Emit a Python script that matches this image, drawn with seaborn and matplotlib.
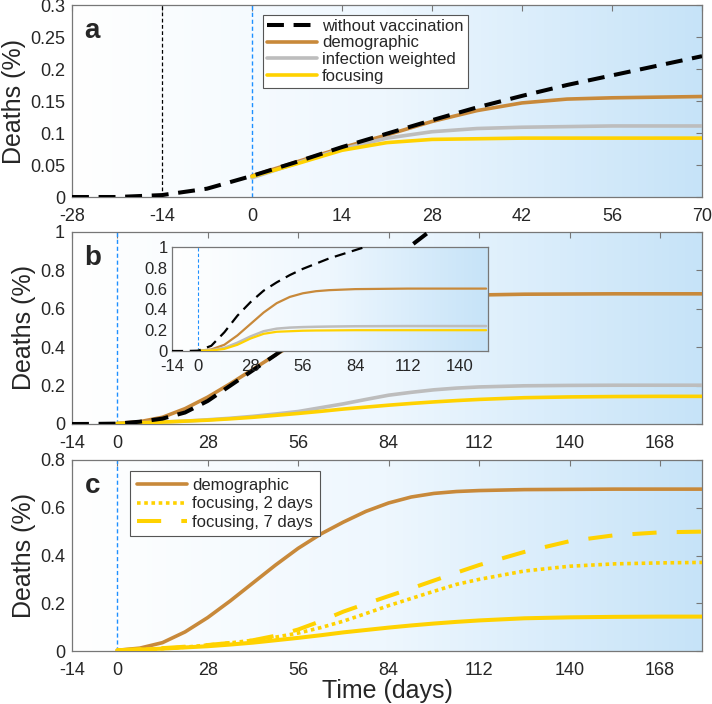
import numpy as np
import pandas as pd
import matplotlib
matplotlib.use("Agg")
import matplotlib.pyplot as plt
import seaborn as sns
from matplotlib.colors import LinearSegmentedColormap

sns.set_theme(style="white")
plt.rcParams['font.family'] = ['Liberation Sans', 'DejaVu Sans']

# ---------------- data ----------------
# panel a
a_days_nv = [-28, -21, -14, -7, 0, 7, 14, 21, 28, 35, 42, 49, 56, 63, 70]
a_without = [0.0, 0.0, 0.003, 0.013, 0.033, 0.055, 0.078, 0.099, 0.12, 0.14, 0.158, 0.175, 0.19, 0.205, 0.22]
a_days = [0, 7, 14, 21, 28, 35, 42, 49, 56, 63, 70]
a_demographic = [0.033, 0.055, 0.077, 0.097, 0.118, 0.135, 0.147, 0.153, 0.155, 0.156, 0.157]
a_infection = [0.030, 0.053, 0.075, 0.092, 0.102, 0.107, 0.109, 0.110, 0.111, 0.111, 0.111]
a_focusing = [0.032, 0.052, 0.073, 0.085, 0.090, 0.091, 0.092, 0.092, 0.092, 0.092, 0.092]

# panel b (main)
b_days_nv = [-14, -7, 0, 7, 14, 21, 28, 35, 42, 49, 56, 63, 70, 77, 84, 91, 98]
b_without = [0.0, 0.0005, 0.002, 0.012, 0.028, 0.06, 0.12, 0.2, 0.28, 0.36, 0.45, 0.56, 0.66, 0.76, 0.84, 0.93, 1.02]
bc_days = [0, 7, 14, 21, 28, 35, 42, 49, 56, 63, 70, 77, 84, 91, 98, 105, 112, 126, 140, 154, 168, 181]
bc_demographic = [0.003, 0.012, 0.035, 0.08, 0.14, 0.21, 0.285, 0.36, 0.43, 0.49, 0.54, 0.585, 0.62, 0.645, 0.66, 0.668, 0.672, 0.676, 0.677, 0.678, 0.678, 0.678]
bc_infection = [0.002, 0.006, 0.01, 0.015, 0.022, 0.03, 0.04, 0.052, 0.065, 0.085, 0.105, 0.128, 0.15, 0.165, 0.178, 0.187, 0.193, 0.199, 0.201, 0.202, 0.202, 0.202]
bc_focusing = [0.003, 0.006, 0.01, 0.015, 0.02, 0.027, 0.035, 0.045, 0.055, 0.066, 0.078, 0.088, 0.098, 0.107, 0.115, 0.122, 0.128, 0.137, 0.141, 0.143, 0.144, 0.144]

# panel b inset
i_days_nv = [-14, -7, 0, 7, 14, 21, 28, 35, 42, 49, 56, 63, 70, 77, 84, 91]
i_without = [0.0, 0.0, 0.003, 0.05, 0.18, 0.34, 0.47, 0.58, 0.66, 0.73, 0.79, 0.84, 0.89, 0.93, 0.97, 1.01]
i_days = [0, 7, 14, 21, 28, 35, 42, 49, 56, 63, 70, 84, 112, 154]
i_demographic = [0.003, 0.015, 0.06, 0.15, 0.26, 0.37, 0.46, 0.52, 0.555, 0.575, 0.585, 0.595, 0.6, 0.6]
i_infection = [0.002, 0.008, 0.03, 0.08, 0.14, 0.19, 0.215, 0.225, 0.23, 0.233, 0.235, 0.238, 0.24, 0.24]
i_focusing = [0.002, 0.005, 0.02, 0.06, 0.12, 0.165, 0.185, 0.19, 0.195, 0.197, 0.198, 0.2, 0.2, 0.2]

# panel c
c_focus2 = [0.003, 0.006, 0.01, 0.016, 0.025, 0.034, 0.045, 0.058, 0.075, 0.098, 0.125, 0.157, 0.19, 0.22, 0.25, 0.279, 0.3, 0.335, 0.355, 0.365, 0.369, 0.371]
c_focus7 = [0.003, 0.007, 0.012, 0.018, 0.025, 0.034, 0.045, 0.064, 0.09, 0.125, 0.165, 0.198, 0.23, 0.262, 0.295, 0.328, 0.36, 0.415, 0.46, 0.485, 0.497, 0.5]

labels_a = ["without vaccination", "demographic", "infection weighted", "focusing"]
labels_c = ["demographic", "focusing, 2 days", "focusing, 7 days"]

# ---------------- styles ----------------
C_DEMO = "#C8893A"
C_INF = "#BDBDBD"
C_FOC = "#FFD200"
C_BLUE = "#1E90FF"
grad = LinearSegmentedColormap.from_list("g", ["#ffffff", "#eef7fe", "#c6e3f8"])

W, H = 712, 704
fig = plt.figure(figsize=(W / 100, H / 100), dpi=100)

def px_axes(l, t, r, b):
    return fig.add_axes([l / W, 1 - b / H, (r - l) / W, (b - t) / H])

def style(ax, xlim, ylim, xticks, yticks, fs=13, xpad=8, ypad=5):
    ax.set_xlim(*xlim)
    ax.set_ylim(*ylim)
    img = np.linspace(0, 1, 256).reshape(1, -1)
    ax.imshow(img, cmap=grad, aspect='auto', extent=[xlim[0], xlim[1], ylim[0], ylim[1]],
              zorder=0, interpolation='bilinear')
    ax.set_xticks(xticks)
    ax.set_yticks(yticks)
    ax.set_yticklabels(['%g' % v for v in yticks])
    ax.set_xticklabels([str(v) for v in xticks])
    ax.tick_params(direction='in', length=4, width=0.8, color='#777777', labelsize=fs,
                   top=True, right=True)
    ax.tick_params(axis='x', pad=xpad)
    ax.tick_params(axis='y', pad=ypad)
    for s in ax.spines.values():
        s.set_color('#777777')
        s.set_linewidth(0.9)
        s.set_visible(True)

LW = 2.6
DASH_BLACK = (0, (4.2, 2.4))

# ---------------- panel a ----------------
axa = px_axes(72, 5, 702, 197)
style(axa, (-28, 70), (0, 0.3), [-28, -14, 0, 14, 28, 42, 56, 70],
      [0, 0.05, 0.1, 0.15, 0.2, 0.25, 0.3])
axa.axvline(-14, color='black', lw=0.9, ls=(0, (3, 2)), zorder=1)
axa.axvline(0, color=C_BLUE, lw=1.0, ls=(0, (3, 2)), zorder=1)
dfa = pd.DataFrame({"day": a_days, "demographic": a_demographic,
                    "infection weighted": a_infection, "focusing": a_focusing})
sns.lineplot(data=dfa, x="day", y="demographic", ax=axa, color=C_DEMO, lw=LW, label="demographic", zorder=3)
sns.lineplot(data=dfa, x="day", y="infection weighted", ax=axa, color=C_INF, lw=LW, label="infection weighted", zorder=3)
sns.lineplot(data=dfa, x="day", y="focusing", ax=axa, color=C_FOC, lw=LW, label="focusing", zorder=3)
dfa_nv = pd.DataFrame({"day": a_days_nv, "without": a_without})
sns.lineplot(data=dfa_nv, x="day", y="without", ax=axa, color='black', lw=LW + 0.3,
             ls=DASH_BLACK, label="without vaccination", zorder=4)
h, l = axa.get_legend_handles_labels()
order = [l.index(x) for x in labels_a]
leg = axa.legend([h[i] for i in order], [l[i] for i in order], loc='upper left',
                 bbox_to_anchor=(0.303, 0.95), fontsize=12, frameon=True, fancybox=False,
                 edgecolor='#555555', framealpha=1, borderpad=0.25, labelspacing=0.1,
                 handlelength=3.0, handletextpad=0.3, borderaxespad=0)
leg.get_frame().set_linewidth(0.8)
axa.text(0.02, 0.93, "a", transform=axa.transAxes, fontsize=20, fontweight='bold', va='top', ha='left')
axa.set_ylabel("Deaths (%)", fontsize=18, labelpad=3)
axa.set_xlabel("")

# ---------------- panel b ----------------
axb = px_axes(72, 232, 702, 424)
style(axb, (-14, 181), (0, 1), [-14, 0, 28, 56, 84, 112, 140, 168],
      [0, 0.2, 0.4, 0.6, 0.8, 1])
axb.axvline(0, color=C_BLUE, lw=1.0, ls=(0, (3, 2)), zorder=1)
dfb = pd.DataFrame({"day": bc_days, "demographic": bc_demographic,
                    "infection": bc_infection, "focusing": bc_focusing})
sns.lineplot(data=dfb, x="day", y="demographic", ax=axb, color=C_DEMO, lw=LW, zorder=3)
sns.lineplot(data=dfb, x="day", y="infection", ax=axb, color=C_INF, lw=LW, zorder=3)
sns.lineplot(data=dfb, x="day", y="focusing", ax=axb, color=C_FOC, lw=LW, zorder=3)
dfb_nv = pd.DataFrame({"day": b_days_nv, "without": b_without})
sns.lineplot(data=dfb_nv, x="day", y="without", ax=axb, color='black', lw=LW + 0.3,
             ls=DASH_BLACK, zorder=4)
axb.set_ylim(0, 1)
axb.text(0.02, 0.93, "b", transform=axb.transAxes, fontsize=20, fontweight='bold', va='top', ha='left')
axb.set_ylabel("Deaths (%)", fontsize=18, labelpad=3)
axb.set_xlabel("")

# inset
axi = px_axes(172, 247, 488, 351)
style(axi, (-14, 155), (0, 1), [-14, 0, 28, 56, 84, 112, 140],
      [0, 0.2, 0.4, 0.6, 0.8, 1], fs=12, xpad=6, ypad=3)
axi.tick_params(length=0)
axi.axvline(0, color=C_BLUE, lw=0.8, ls=(0, (3, 2)), zorder=1)
dfi = pd.DataFrame({"day": i_days, "demographic": i_demographic,
                    "infection": i_infection, "focusing": i_focusing})
sns.lineplot(data=dfi, x="day", y="demographic", ax=axi, color=C_DEMO, lw=1.6, zorder=3)
sns.lineplot(data=dfi, x="day", y="infection", ax=axi, color=C_INF, lw=1.8, zorder=3)
sns.lineplot(data=dfi, x="day", y="focusing", ax=axi, color=C_FOC, lw=1.6, zorder=3)
dfi_nv = pd.DataFrame({"day": i_days_nv, "without": i_without})
sns.lineplot(data=dfi_nv, x="day", y="without", ax=axi, color='black', lw=1.6,
             ls=(0, (5, 3)), zorder=4)
axi.set_ylim(0, 1)
axi.set_xlim(-14, 155)
axi.set_xlabel("")
axi.set_ylabel("")

# ---------------- panel c ----------------
axc = px_axes(72, 460, 702, 651)
style(axc, (-14, 181), (0, 0.8), [-14, 0, 28, 56, 84, 112, 140, 168],
      [0, 0.2, 0.4, 0.6, 0.8])
axc.axvline(0, color=C_BLUE, lw=1.0, ls=(0, (3, 2)), zorder=1)
dfc = pd.DataFrame({"day": bc_days, "demographic": bc_demographic, "focusing": bc_focusing,
                    "f2": c_focus2, "f7": c_focus7})
sns.lineplot(data=dfc, x="day", y="demographic", ax=axc, color=C_DEMO, lw=LW, label="demographic", zorder=3)
sns.lineplot(data=dfc, x="day", y="f2", ax=axc, color=C_FOC, lw=LW, ls=(0, (1, 1)), label="focusing, 2 days", zorder=3)
sns.lineplot(data=dfc, x="day", y="f7", ax=axc, color=C_FOC, lw=LW + 0.3, ls=(0, (6, 5)), label="focusing, 7 days", zorder=3)
sns.lineplot(data=dfc, x="day", y="focusing", ax=axc, color=C_FOC, lw=LW + 0.3, zorder=3)
h, l = axc.get_legend_handles_labels()
order = [l.index(x) for x in labels_c]
leg = axc.legend([h[i] for i in order], [l[i] for i in order], loc='upper left',
                 bbox_to_anchor=(0.092, 0.94), fontsize=12, frameon=True, fancybox=False,
                 edgecolor='#555555', framealpha=1, borderpad=0.4, labelspacing=0.2,
                 handlelength=3.0, handletextpad=0.35, borderaxespad=0)
leg.get_frame().set_linewidth(0.8)
axc.set_ylim(0, 0.8)
axc.text(0.02, 0.93, "c", transform=axc.transAxes, fontsize=20, fontweight='bold', va='top', ha='left')
axc.set_ylabel("Deaths (%)", fontsize=18, labelpad=3)
axc.set_xlabel("Time (days)", fontsize=18, labelpad=0)

fig.savefig("out.png", dpi=100)
